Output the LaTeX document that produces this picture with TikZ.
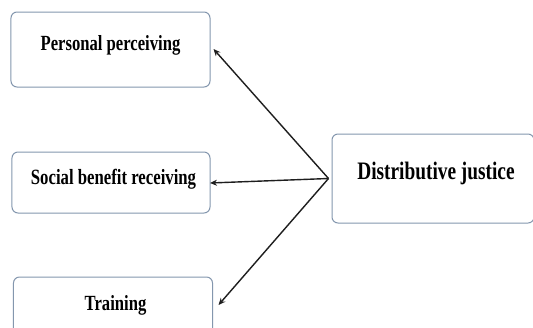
\documentclass[tikz,border=0pt]{standalone}
\usepackage{fontspec}
\setmainfont{Liberation Serif}
\usetikzlibrary{arrows.meta,calc}
\definecolor{boxline}{HTML}{8497AE}
\definecolor{linkc}{HTML}{1E1E1E}
\newcommand{\tallbf}[2]{\scalebox{1}[1.3]{\fontsize{#1}{#1}\selectfont\bfseries #2}}
\begin{document}
\begin{tikzpicture}[x=1bp,y=-1bp,
  box/.style={draw=boxline, line width=1bp, rounded corners=6bp, fill=white, inner sep=0pt},
  lbl/.style={inner sep=0pt, anchor=base, text=black},
  link/.style={draw=linkc, line width=1.4bp, -{Stealth[length=7bp,width=6bp]}}]
  \clip (0,0) rectangle (533,327);
  \fill[white] (0,0) rectangle (533,327);

  % outcome boxes on the left
  \node[box, minimum width=199bp, minimum height=75bp] (pp) at (110.5,49.5) {};
  \node[box, minimum width=198bp, minimum height=61bp] (sb) at (111,182.5) {};
  \node[box, minimum width=199bp, minimum height=68bp] (tr) at (113,311) {};
  % source box on the right
  \node[box, minimum width=202bp, minimum height=89bp] (dj) at (433,178.5) {};

  % labels
  \node[lbl] (pptext) at (110.5,50) {\tallbf{16.7}{Personal perceiving}};
  \node[lbl] (sbtext) at (113.5,184) {\tallbf{16.8}{Social benefit receiving}};
  \node[lbl] (trtext) at (115.5,310) {\tallbf{16.7}{Training}};
  \node[lbl] (djtext) at (436,179) {\tallbf{19.4}{Distributive justice}};

  % connectors fanning out from the left side of the source box
  \coordinate (hub) at ($(dj.west)+(-3,0)$);
  \coordinate (pptip) at ($(pp.east)+(3,-0.5)$);
  \coordinate (sbtip) at ($(sb.east)+(-0.5,0.5)$);
  \coordinate (trtip) at ($(tr.east)+(5.5,-6)$);
  \draw[link] (hub) -- (pptip);
  \draw[link] (hub) -- (sbtip);
  \draw[link] (hub) -- (trtip);
\end{tikzpicture}
\end{document}
